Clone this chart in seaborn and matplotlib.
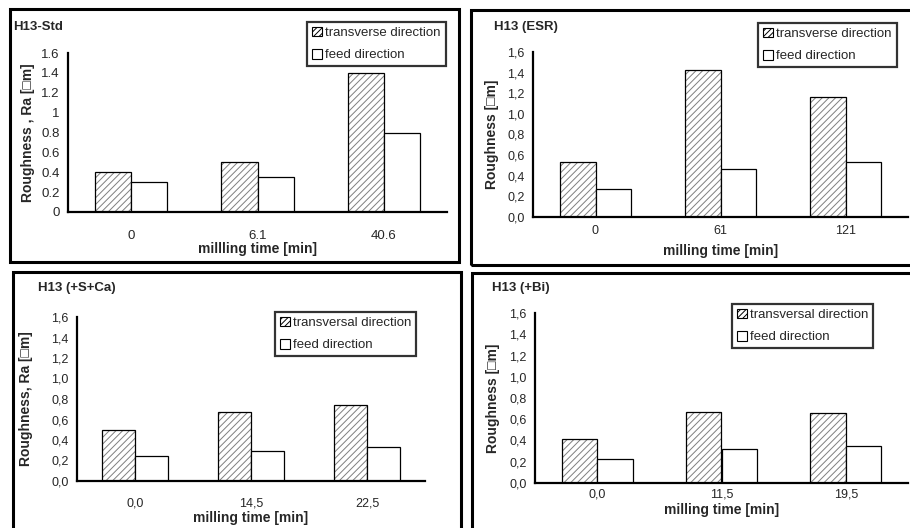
import pandas as pd
import matplotlib
matplotlib.use('Agg')
import matplotlib.pyplot as plt
import matplotlib.colors as mcolors
from matplotlib.patches import Patch, Rectangle
from matplotlib.ticker import FuncFormatter
import seaborn as sns

# Data
std_times = ['0', '6.1', '40.6']
std_transverse = [0.40, 0.50, 1.40]
std_feed = [0.30, 0.35, 0.80]

esr_times = ['0', '61', '121']
esr_transverse = [0.53, 1.43, 1.16]
esr_feed = [0.27, 0.47, 0.53]

sca_times = ['0,0', '14,5', '22,5']
sca_transverse = [0.50, 0.67, 0.74]
sca_feed = [0.24, 0.29, 0.33]

bi_times = ['0,0', '11,5', '19,5']
bi_transverse = [0.41, 0.67, 0.66]
bi_feed = [0.23, 0.32, 0.35]

y_ticks = [0.0, 0.2, 0.4, 0.6, 0.8, 1.0, 1.2, 1.4, 1.6]

sns.set_style('white')
plt.rcParams['font.family'] = ['Liberation Sans', 'DejaVu Sans']
plt.rcParams['hatch.linewidth'] = 0.7

W, H = 910, 528
fig = plt.figure(figsize=(W / 100, H / 100), dpi=100)


def fx(x):
    return x / W


def fy(y):
    return 1 - y / H


def draw_panel(rect, times, transverse, feed, names, title, title_xy, ylabel,
               xlabel, ylabel_x, xlabel_y, legend_xy, fmt, tick_size, xpad):
    x0, x1, ytop, ybot = rect
    ax = fig.add_axes([fx(x0), fy(ybot), (x1 - x0) / W, (ybot - ytop) / H])
    ax.set_facecolor('none')
    df = pd.DataFrame({
        'time': times * 2,
        'ra': transverse + feed,
        'direction': [names[0]] * 3 + [names[1]] * 3,
    })
    sns.barplot(data=df, x='time', y='ra', hue='direction', order=times,
                hue_order=names, palette=['white', 'white'], saturation=1,
                width=0.57, edgecolor='black', linewidth=0.9, errorbar=None,
                legend=False, ax=ax)
    for p in ax.containers[0]:
        p.set_hatch('/////')
        if hasattr(p, 'set_hatchcolor'):
            p.set_hatchcolor('#7f7f7f')
        else:
            p._hatch_color = mcolors.to_rgba('#7f7f7f')

    ax.set_xlim(-0.5, 2.5)
    ax.set_ylim(0, 1.6)
    ax.set_yticks(y_ticks)
    ax.yaxis.set_major_formatter(FuncFormatter(fmt))
    ax.set_xticks([0.5, 1.5], minor=True)
    ax.tick_params(axis='x', which='major', length=0, pad=xpad, labelsize=tick_size)
    ax.tick_params(axis='x', which='minor', length=4, width=1.4, direction='out',
                   color='black')
    ax.tick_params(axis='y', length=4, width=1.4, direction='out', color='black',
                   pad=2, labelsize=tick_size)
    for side in ['top', 'right']:
        ax.spines[side].set_visible(False)
    for side in ['left', 'bottom']:
        ax.spines[side].set_color('black')
        ax.spines[side].set_linewidth(1.6)

    ax.set_xlabel(xlabel, fontsize=10, fontweight='bold', va='center')
    ax.set_ylabel(ylabel, fontsize=10, fontweight='bold', va='center')
    ax.xaxis.set_label_coords(0.5, (ybot - xlabel_y) / (ybot - ytop))
    ax.yaxis.set_label_coords((ylabel_x - x0) / (x1 - x0), 0.5)

    fig.text(fx(title_xy[0]), fy(title_xy[1]), title, fontsize=9.5,
             fontweight='bold', va='center', ha='left')

    handles = [Patch(facecolor='white', edgecolor='black', hatch='//////', lw=0.8),
               Patch(facecolor='white', edgecolor='black', lw=0.8)]
    leg = ax.legend(handles, names, loc='upper left',
                    bbox_to_anchor=(fx(legend_xy[0]), fy(legend_xy[1])),
                    bbox_transform=fig.transFigure, fontsize=9.5,
                    frameon=True, fancybox=False, borderpad=0.35,
                    labelspacing=0.75, handlelength=0.75, handleheight=0.75,
                    handletextpad=0.3, borderaxespad=0)
    leg.get_frame().set_edgecolor('black')
    leg.get_frame().set_linewidth(1.6)
    return ax


def fmt_general(v, pos):
    return f'{v:g}'


def fmt_comma(v, pos):
    return f'{v:.1f}'.replace('.', ',')


draw_panel((68, 447, 53, 212), std_times, std_transverse, std_feed,
           ['transverse direction', 'feed direction'], 'H13-Std', (13, 27),
           'Roughness , Ra [\u25a1m]', 'millling time [min]', 28, 249,
           (307, 22), fmt_general, 9.5, 13)
draw_panel((533, 908, 52, 217), esr_times, esr_transverse, esr_feed,
           ['transverse direction', 'feed direction'], 'H13 (ESR)', (494, 27),
           'Roughness [\u25a1m]', 'milling time [min]', 492, 251,
           (758, 23), fmt_comma, 9, 6)
draw_panel((77, 425, 317, 481), sca_times, sca_transverse, sca_feed,
           ['transversal direction', 'feed direction'], 'H13 (+S+Ca)', (38, 288),
           'Roughness, Ra [\u25a1m]', 'milling time [min]', 26, 518,
           (275, 312), fmt_comma, 9, 12)
draw_panel((535, 908, 313, 483), bi_times, bi_transverse, bi_feed,
           ['transversal direction', 'feed direction'], 'H13 (+Bi)', (492, 288),
           'Roughness [\u25a1m]', 'milling time [min]', 493, 510,
           (732, 304), fmt_comma, 9, 4)

# Black frames around each panel (right and bottom ones run off the page)
frames = [(10, 9, 459, 262), (471, 10, 920, 265),
          (13, 272, 461, 540), (472, 273, 920, 540)]
for x0, y0, x1, y1 in frames:
    fig.add_artist(Rectangle((fx(x0), fy(y1)), (x1 - x0) / W, (y1 - y0) / H,
                             transform=fig.transFigure, fill=False,
                             edgecolor='black', linewidth=2.2))

fig.savefig('out.png', dpi=100)
